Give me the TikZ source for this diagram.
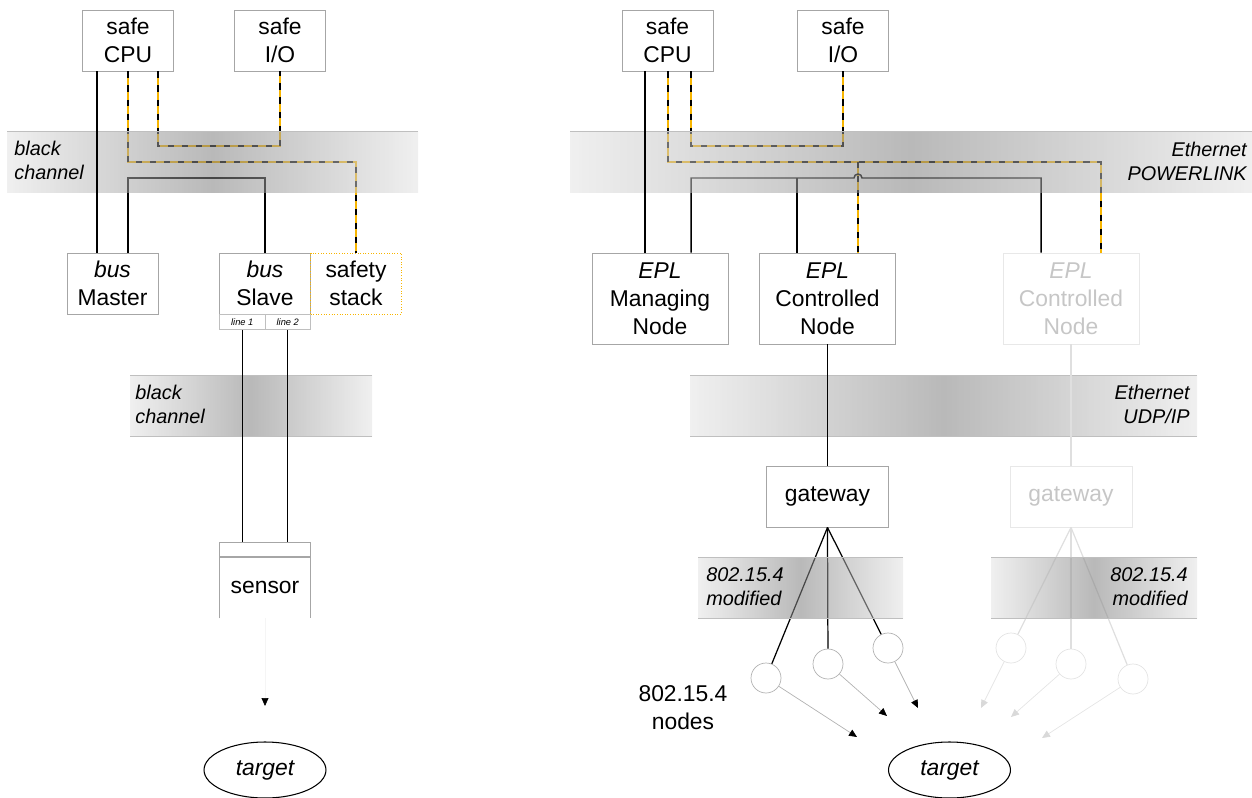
\documentclass[tikz,border=0pt]{standalone}
\usepackage{fontspec}
\setmainfont{Liberation Sans}
\usetikzlibrary{arrows.meta, positioning, shapes.geometric}

\definecolor{safeyellow}{HTML}{F7B500}

\begin{document}
\begin{tikzpicture}[x=0.02cm, y=-0.02cm,
  box/.style={draw=gray!70, line width=0.5pt, rectangle, minimum width=1.82cm, minimum height=1.22cm, inner sep=0pt, align=center, font=\fontsize{13}{16}\selectfont},
  eplbox/.style={box, minimum width=2.72cm, minimum height=1.82cm},
  gwbox/.style={box, minimum width=2.44cm},
  faded/.style={draw=gray!18, text=gray!45},
  linebox/.style={draw=gray!50, line width=0.4pt, minimum width=0.91cm, minimum height=0.3cm, inner sep=0pt, font=\fontsize{5.3}{6}\selectfont\itshape},
  radio/.style={draw=gray!60, line width=0.4pt, circle, minimum size=0.6cm, inner sep=0pt},
  fradio/.style={radio, draw=gray!22},
  goal/.style={draw, line width=0.6pt, ellipse, minimum width=2.44cm, minimum height=1.12cm, inner sep=0pt, font=\fontsize{13}{16}\selectfont\itshape},
  chan/.style={inner sep=0pt, font=\fontsize{11.3}{13.6}\selectfont\itshape},
  band/.style={left color=gray!22, right color=gray!22, middle color=gray, fill opacity=0.55},
  bandedge/.style={draw=gray!50, line width=0.4pt},
  wire/.style={line width=0.85pt},
  fwire/.style={wire, draw=gray!25},
  safe/.style={line width=1.1pt, draw=safeyellow, postaction={draw=black, dash pattern=on 3.5pt off 4.5pt}},
  sig/.style={-{Triangle[length=1.6mm, width=1.4mm, color=black]}, draw=gray!60, line width=0.4pt},
  fsig/.style={-{Triangle[length=1.6mm, width=1.4mm, color=gray!30]}, draw=gray!20, line width=0.4pt}
]
\useasboundingbox (0,0) rectangle (1252,798);

% left: bus system
\node[box] (cpuL) at (128,40.5) {safe\\CPU};
\node[box] (ioL) at (280,40.5) {safe\\I/O};
\node[box] (masterL) at (112.5,283.5) {\textit{bus}\\Master};
\node[box] (slaveL) at (265,283.5) {\textit{bus}\\Slave};
\node[box, draw=safeyellow, densely dotted] (stackL) at (356,283.5) {safety\\stack};
\node[linebox] (l1) at (242.25,322) {line 1};
\node[linebox] (l2) at (287.75,322) {line 2};
\node[linebox, draw=gray!70, minimum width=1.82cm] (headL) at (265,549.5) {};
\node[box, draw=none] (sensorL) at (265,587.5) {sensor};
\draw[draw=gray!70, line width=0.5pt] (sensorL.south west) -- (sensorL.north west) -- (sensorL.north east) -- (sensorL.south east);
\coordinate (tipL) at (265,706);
\node[goal] (targetL) at (265,770) {target};

% right: POWERLINK system
\node[box] (cpuR) at (667.5,40.5) {safe\\CPU};
\node[box] (ioR) at (843,40.5) {safe\\I/O};
\node[eplbox] (mnR) at (660,298.5) {\textit{EPL}\\Managing\\Node};
\node[eplbox] (cnR) at (827.5,298.5) {\textit{EPL}\\Controlled\\Node};
\node[eplbox, faded] (fcnR) at (1071,298.5) {\textit{EPL}\\Controlled\\Node};
\node[gwbox] (gwR) at (827.5,496.5) {gateway};
\node[gwbox, faded] (fgwR) at (1071,496.5) {gateway};
\node[radio] (c1) at (766,678) {};
\node[radio] (c2) at (828,664) {};
\node[radio] (c3) at (888,648) {};
\node[fradio] (f1) at (1011,648) {};
\node[fradio] (f2) at (1071,664) {};
\node[fradio] (f3) at (1133,679) {};
\node[font=\fontsize{13}{16}\selectfont, align=center] (nodesR) at (683,708) {802.15.4\\nodes};
\node[goal] (targetR) at (949.5,770) {target};
\coordinate (t1) at (857,737);
\coordinate (t2) at (887,716);
\coordinate (t3) at (918,708);
\coordinate (ft1) at (981,708);
\coordinate (ft2) at (1011,717);
\coordinate (ft3) at (1042,738);
\coordinate (forkR) at (858,162);
\coordinate (joinR) at (797,178);

% lines seen through the bands
\draw[safe] (cpuL.south -| 128,0) |- (356,162) -- (stackL.north);
\draw[safe] (cpuL.south -| 158,0) |- (280,146) -- (ioL.south);
\draw[wire] (masterL.north -| 128,0) |- (265,178) -- (slaveL.north);
\draw[safe] (cpuR.south -| 668,0) |- (1101,162) -- (fcnR.north -| 1101,0);
\draw[safe] (forkR) -- (cnR.north -| 858,0);
\draw[safe] (cpuR.south -| 691,0) |- (843,146) -- (ioR.south);
\draw[wire] (mnR.north -| 691,0) |- (854,178) arc[start angle=180, end angle=0, radius=0.08cm] -- (1041,178) -- (fcnR.north -| 1041,0);
\draw[wire] (cnR.north -| 797,0) -- (joinR);
\draw[wire, line width=0.7pt] (gwR.south) -- (c1);
\draw[wire, line width=0.7pt] (gwR.south) -- (c2);
\draw[wire, line width=0.7pt] (gwR.south) -- (c3);
\draw[fwire, line width=0.7pt] (fgwR.south) -- (f1);
\draw[fwire, line width=0.7pt] (fgwR.south) -- (f2);
\draw[fwire, line width=0.7pt] (fgwR.south) -- (f3);

% channels
\shade[band] (7,131) rectangle (418,192);
\draw[bandedge] (7,131) -- (418,131);
\shade[band] (570,131) rectangle (1252,192);
\draw[bandedge] (570,131) -- (1252,131);
\shade[band] (130,375) rectangle (372,436);
\draw[bandedge] (130,375) -- (372,375) (130,436) -- (372,436);
\shade[band] (690,375) rectangle (1197,436);
\draw[bandedge] (690,375) -- (1197,375) (690,436) -- (1197,436);
\shade[band] (698,557) rectangle (903,618);
\draw[bandedge] (698,557) -- (903,557) (698,618) -- (903,618);
\shade[band] (991,557) rectangle (1197,618);
\draw[bandedge] (991,557) -- (1197,557) (991,618) -- (1197,618);

\node[chan, anchor=west, align=left] (chanA) at (14,160) {black\\channel};
\node[chan, anchor=east, align=right] (chanB) at (1247,161) {Ethernet\\POWERLINK};
\node[chan, anchor=west, align=left] (chanC) at (135,404) {black\\channel};
\node[chan, anchor=east, align=right] (chanD) at (1190,404) {Ethernet\\UDP/IP};
\node[chan, anchor=west, align=left] (chanE) at (706,587) {802.15.4\\modified};
\node[chan, anchor=east, align=right] (chanF) at (1188,587) {802.15.4\\modified};

% lines on top
\draw[wire] (cpuL.south -| 97,0) -- (masterL.north -| 97,0);
\draw[wire] (cpuR.south -| 645,0) -- (mnR.north -| 645,0);
\draw[wire] (l1.south) -- (l1.south |- headL.north);
\draw[wire] (l2.south) -- (l2.south |- headL.north);
\draw[wire] (cnR.south) -- (gwR.north);
\draw[fwire] (fcnR.south) -- (fgwR.north);
\draw[sig, draw=gray!8] (sensorL.south) -- (tipL);
\draw[sig] (c1) -- (t1);
\draw[sig] (c2) -- (t2);
\draw[sig] (c3) -- (t3);
\draw[fsig] (f1) -- (ft1);
\draw[fsig] (f2) -- (ft2);
\draw[fsig] (f3) -- (ft3);

\end{tikzpicture}
\end{document}
